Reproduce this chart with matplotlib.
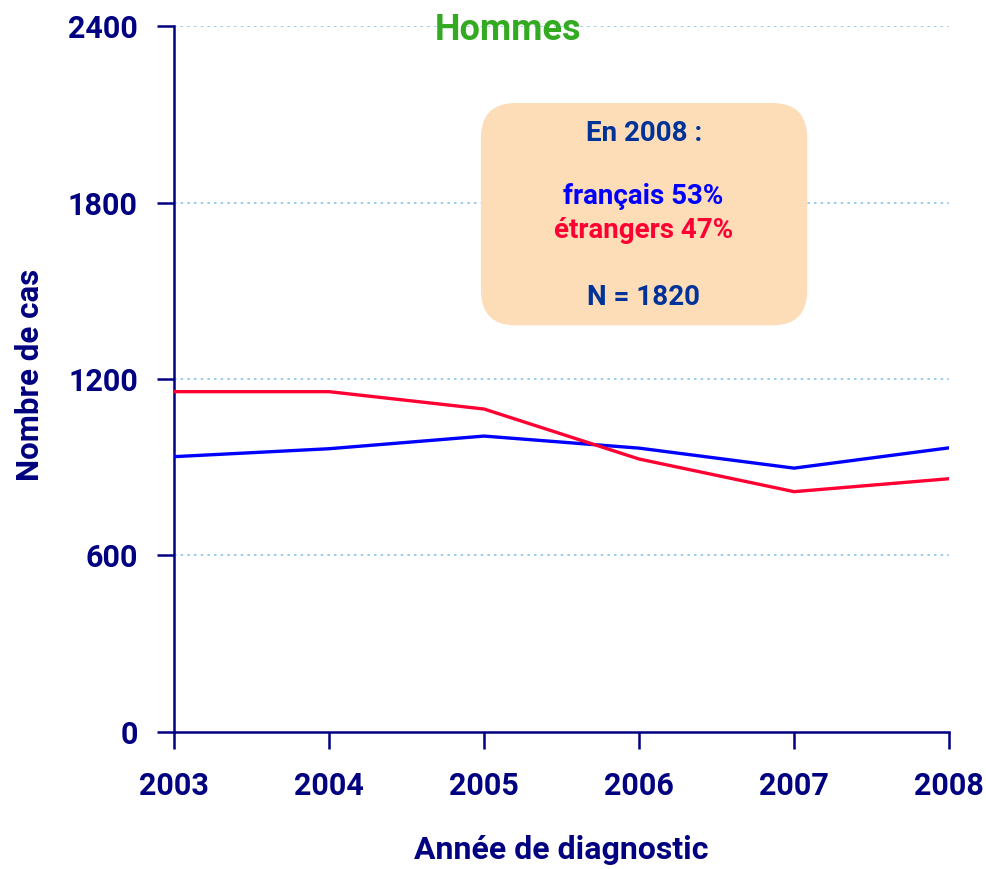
import matplotlib
matplotlib.use("Agg")
import matplotlib.pyplot as plt
from matplotlib.patches import FancyBboxPatch

years = [2003, 2004, 2005, 2006, 2007, 2008]
francais = [936, 963, 1006, 965, 897, 966]
etrangers = [1157, 1157, 1098, 928, 817, 861]
yticks = [0, 600, 1200, 1800, 2400]

navy = '#000080'
plt.rcParams['font.family'] = ['Roboto', 'DejaVu Sans']
plt.rcParams['font.weight'] = 'bold'
plt.rcParams['axes.labelweight'] = 'bold'

fig = plt.figure(figsize=(9.86, 8.69), dpi=100)
ax = fig.add_axes([0.1765, 0.1577, 0.786, 0.8123])

ax.plot(years, francais, color='#0000ff', lw=2.4, zorder=3)
ax.plot(years, etrangers, color='#ff0033', lw=2.4, zorder=3)

ax.set_xlim(2003, 2008)
ax.set_ylim(0, 2400)
ax.set_xticks(years)
ax.set_yticks(yticks)
for y in yticks[1:]:
    ax.axhline(y, color='#88c4f0', lw=1.2, ls=(0, (1.5, 2.5)), zorder=1)

for s in ['top', 'right']:
    ax.spines[s].set_visible(False)
for s in ['left', 'bottom']:
    ax.spines[s].set_color(navy)
    ax.spines[s].set_linewidth(1.8)
ax.tick_params(axis='both', colors=navy, direction='out', length=12, width=1.8, labelsize=22)
ax.tick_params(axis='x', pad=16)
ax.tick_params(axis='y', pad=14)

ax.set_ylabel('Nombre de cas', color=navy, fontsize=22.5, va='center')
ax.yaxis.set_label_coords(-0.186, 0.506)
ax.set_xlabel('Année de diagnostic', color=navy, fontsize=23, va='center')
ax.xaxis.set_label_coords(0.5, -0.167)

# encadré
box = FancyBboxPatch((0.396, 0.576), 0.421, 0.315, transform=ax.transAxes,
                     boxstyle='round,pad=0,rounding_size=0.045', mutation_aspect=775 / 706,
                     facecolor='#fddcb8', edgecolor='none', zorder=4)
ax.add_patch(box)
ax.text(0.606, 0.848, 'En 2008 :', transform=ax.transAxes, ha='center', va='center',
        color='#003399', fontsize=20, zorder=5)
ax.text(0.606, 0.758, 'français 53%', transform=ax.transAxes, ha='center', va='center',
        color='#0000ff', fontsize=20, zorder=5)
ax.text(0.606, 0.710, 'étrangers 47%', transform=ax.transAxes, ha='center', va='center',
        color='#ff0033', fontsize=20, zorder=5)
ax.text(0.606, 0.616, 'N = 1820', transform=ax.transAxes, ha='center', va='center',
        color='#003399', fontsize=20, zorder=5)

fig.text(0.515, 0.965, 'Hommes', ha='center', va='center', color='#33aa22', fontsize=26)

fig.savefig('out.png', dpi=100)
